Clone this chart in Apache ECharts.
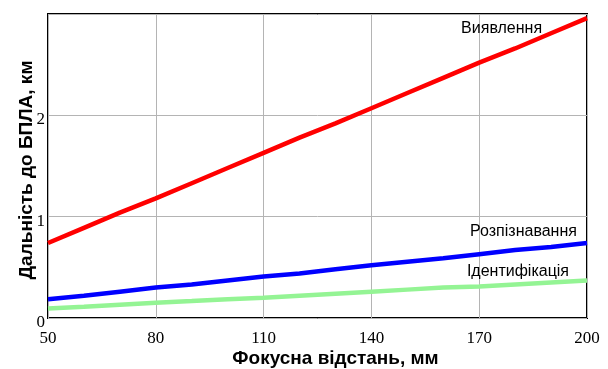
<!DOCTYPE html>
<html>
<head>
<meta charset="utf-8">
<script src="https://cdn.jsdelivr.net/npm/echarts@6/dist/echarts.min.js"></script>
<style>html,body{margin:0;padding:0;background:#fff;}#c{width:608px;height:369px;}</style>
</head>
<body>
<div id="c"></div>
<script>
const focal = [50, 60, 70, 80, 90, 100, 110, 120, 130, 140, 150, 160, 170, 180, 190, 200];
const detection = [0.74, 0.89, 1.04, 1.18, 1.33, 1.48, 1.63, 1.78, 1.92, 2.07, 2.22, 2.37, 2.52, 2.66, 2.81, 2.96];
const recognition = [0.185, 0.22, 0.26, 0.30, 0.33, 0.37, 0.41, 0.44, 0.48, 0.52, 0.555, 0.59, 0.63, 0.67, 0.70, 0.74];
const identification = [0.093, 0.11, 0.13, 0.15, 0.167, 0.185, 0.20, 0.22, 0.24, 0.26, 0.28, 0.30, 0.31, 0.33, 0.35, 0.37];
const xTicks = [50, 80, 110, 140, 170, 200];
const yTicks = [0, 1, 2];
const names = ['Виявлення', 'Розпізнавання', 'Ідентифікація'];
const labelPos = [[187.5, 2.86], [197.2, 0.85], [195.0, 0.455]];

const chart = echarts.init(document.getElementById('c'));
function pairs(v){ return focal.map((f,i)=>[f, v[i]]); }
function mk(name, vals, color, lp){
  return {
    name: name, type: 'line', data: pairs(vals), showSymbol: false, symbol: 'none',
    lineStyle: {color: color, width: 4.5}, silent: true, animation: false,
    markPoint: {
      symbol: 'circle', symbolSize: 0, silent: true,
      data: [{coord: lp, value: name}],
      label: {show: true, formatter: name, position: 'left', distance: 0,
        color: '#000', fontFamily: 'Arial, "Liberation Sans", sans-serif', fontSize: 16}
    }
  };
}
chart.setOption({
  animation: false,
  grid: {left: 48, right: 21, top: 14, bottom: 51, show: true, outerBoundsMode: 'none', containLabel: false,
    borderColor: '#000', borderWidth: 2, backgroundColor: 'transparent'},
  xAxis: {
    type: 'value', min: 50, max: 200, interval: 30,
    name: 'Фокусна відстань, мм', nameLocation: 'middle', nameGap: 31, nameMoveOverlap: false,
    nameTextStyle: {fontFamily: 'Arial, "Liberation Sans", sans-serif', fontWeight: 'bold', fontSize: 19, color: '#000', padding: [0,0,0,36]},
    axisLine: {show: false}, axisTick: {show: false},
    axisLabel: {fontFamily: '"Liberation Serif", "Times New Roman", serif', fontSize: 17, color: '#000', margin: 12,
      formatter: v => xTicks.includes(v) ? String(v) : ''},
    splitLine: {show: true, lineStyle: {color: '#b4b4b4', width: 1}}
  },
  yAxis: {
    type: 'value', min: 0, max: 3, interval: 1,
    name: 'Дальність до БПЛА, км', nameLocation: 'middle', nameGap: 12, nameMoveOverlap: false,
    nameTextStyle: {fontFamily: 'Arial, "Liberation Sans", sans-serif', fontWeight: 'bold', fontSize: 19, color: '#000', padding: [0,8,0,0]},
    axisLine: {show: false}, axisTick: {show: false},
    axisLabel: {fontFamily: '"Liberation Serif", "Times New Roman", serif', fontSize: 17, color: '#000', margin: 3,
      verticalAlign: 'top', lineHeight: 9,
      formatter: v => yTicks.includes(v) ? String(v) : ''},
    splitLine: {show: true, lineStyle: {color: '#b4b4b4', width: 1}}
  },
  series: [
    mk(names[0], detection, '#ff0000', labelPos[0]),
    mk(names[1], recognition, '#0000ff', labelPos[1]),
    mk(names[2], identification, '#94f494', labelPos[2])
  ]
});
</script>
</body>
</html>
